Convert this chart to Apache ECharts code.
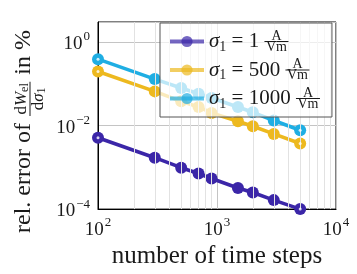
<!DOCTYPE html>
<html><head><meta charset="utf-8">
<script src="https://cdn.jsdelivr.net/npm/echarts@6/dist/echarts.min.js"></script>
<style>html,body{margin:0;padding:0;background:#fff}#c{width:357px;height:274px}</style>
</head><body><div id="c"></div>
<script>
// ---- data ----
const steps = [100, 300, 500, 700, 900, 1500, 2000, 3000, 5000];
const err1 = [5.1e-3, 1.7e-3, 9.8e-4, 7.1e-4, 5.4e-4, 3.2e-4, 2.5e-4, 1.64e-4, 1.0e-4];
const err500 = [0.196, 0.0656, 0.0379, 0.0278, 0.020, 0.0127, 0.0096, 0.0063, 0.0037];
const err1000 = [0.387, 0.129, 0.079, 0.0578, 0.0456, 0.0278, 0.0207, 0.0132, 0.0077];
const sigmaValues = ['1', '500', '1000'];
const seriesNames = ['σ1 = 1 A/Vm', 'σ1 = 500 A/Vm', 'σ1 = 1000 A/Vm'];
const colors = ['#3b26a8', '#edb91f', '#1faee3'];
const xTicks = [100, 1000, 10000];
const yTicks = [1e-4, 1e-2, 1];
const xTitle = 'number of time steps';

const SERIF = '"Liberation Serif", "DejaVu Serif", serif';
const TXT = '#1a1a1a';

// minor vertical grid lines (2..9 per decade)
const minorX = [];
for (let d = xTicks[0]; d < xTicks[xTicks.length - 1]; d *= 10) {
  for (let k = 2; k <= 9; k++) minorX.push(k * d);
}

function powLabel(v) {
  const e = Math.log10(v);
  if (Math.abs(e - Math.round(e)) > 1e-6) return '';
  const r = Math.round(e);
  return '{b|10}{s|' + (r < 0 ? '\u2212' + (-r) : r) + '}';
}
const powRich = {
  b: {fontFamily: SERIF, fontSize: 19, color: TXT, lineHeight: 23, verticalAlign: 'bottom'},
  s: {fontFamily: SERIF, fontSize: 13, color: TXT, lineHeight: 23, verticalAlign: 'top', padding: [0, 0, 0, 1]}
};

function mkSeries(i, ys) {
  return {
    name: seriesNames[i], type: 'line', data: steps.map((x, j) => [x, ys[j]]),
    color: colors[i], symbol: 'circle', symbolSize: 12, clip: false, z: 3,
    lineStyle: {width: 3.6, color: colors[i]}, itemStyle: {color: colors[i]},
    emphasis: {disabled: true}, animation: false
  };
}
const allY = [err1, err500, err1000];
const dots = [];
allY.forEach(ys => {
  dots.push([steps[0], ys[0]]);
  dots.push([steps[steps.length - 1], ys[ys.length - 1]]);
});

// ---- y-axis title layout (rotated group) ----
function tw(text, font) {
  const c = document.createElement('canvas').getContext('2d');
  c.font = font; return c.measureText(text).width;
}
const mainSize = 24, fracSize = 17, fsub = 12;
const mainFont = mainSize + 'px ' + SERIF;
const fUp = fracSize + 'px ' + SERIF, fIt = 'italic ' + fracSize + 'px ' + SERIF, fSub = fsub + 'px ' + SERIF;
const t1 = 'rel. error of', t2 = 'in %';
const w1 = tw(t1, mainFont);
const num = [['d', fUp, 0], ['W', fIt, 0], ['el', fSub, 3]];
const den = [['d', fUp, 0], ['σ', fIt, 0], ['1', fSub, 3]];
const wOf = arr => arr.reduce((s, p) => s + tw(p[0], p[1]), 0);
const wn = wOf(num), wd = wOf(den), wb = Math.max(wn, wd) + 3;
const uf = w1 + 7;
const numV = -2.5, barV = 6, denV = 14.5;
const titleEls = [];
function txt(t, font, u, v) {
  titleEls.push({type: 'text', x: u, y: v, silent: true,
    style: {text: t, font: font, fill: TXT, align: 'left', verticalAlign: 'middle', textAlign: 'left', textVerticalAlign: 'middle'}});
}
txt(t1, mainFont, 0, 0);
let u = uf + (wb - wn) / 2;
num.forEach(p => { txt(p[0], p[1], u, numV + p[2]); u += tw(p[0], p[1]); });
u = uf + (wb - wd) / 2;
den.forEach(p => { txt(p[0], p[1], u, denV + p[2]); u += tw(p[0], p[1]); });
titleEls.push({type: 'rect', silent: true, shape: {x: uf, y: barV - 0.5, width: wb, height: 1}, style: {fill: TXT}});
txt(t2, mainFont, uf + wb + 7, 0);

// legend rich text with stacked fraction
const legendRich = {
  sg: {fontFamily: SERIF, fontStyle: 'italic', fontSize: 21, color: TXT, lineHeight: 25},
  sub: {fontFamily: SERIF, fontSize: 14, color: TXT, lineHeight: 25, verticalAlign: 'bottom'},
  t: {fontFamily: SERIF, fontSize: 21, color: TXT, lineHeight: 25},
  bl: {align: 'center', width: 12, height: 1, backgroundColor: TXT, lineHeight: 25},
  br: {align: 'center', width: 12, height: 1, backgroundColor: TXT, lineHeight: 25},
  fa: {align: 'center', width: 0, fontFamily: SERIF, fontSize: 14, color: TXT, verticalAlign: 'top', lineHeight: 25},
  fb: {align: 'center', width: 0, fontFamily: SERIF, fontSize: 14, color: TXT, verticalAlign: 'bottom', lineHeight: 25}
};

const chart = echarts.init(document.getElementById('c'), null, {renderer: 'canvas'});
chart.setOption({
  animation: false,
  backgroundColor: '#fff',
  grid: {left: 98, right: 21, top: 22, bottom: 64, show: true, borderColor: '#000', borderWidth: 1, backgroundColor: 'transparent'},
  xAxis: {
    type: 'log', logBase: 10, min: xTicks[0], max: xTicks[xTicks.length - 1],
    name: xTitle, nameLocation: 'middle', nameGap: 30,
    nameTextStyle: {fontFamily: SERIF, fontSize: 25, color: TXT},
    axisLine: {show: true, lineStyle: {color: '#000'}},
    axisTick: {show: false},
    splitLine: {show: true, lineStyle: {color: '#c4c4c4', width: 1}},
    axisLabel: {margin: 7, formatter: powLabel, rich: powRich}
  },
  yAxis: {
    type: 'log', logBase: 10, min: yTicks[0], max: 3, interval: 2,
    axisLine: {show: true, lineStyle: {color: '#000'}},
    axisTick: {show: false},
    splitLine: {show: true, lineStyle: {color: '#c4c4c4', width: 1}},
    axisLabel: {margin: 8, formatter: powLabel, rich: powRich, showMaxLabel: false}
  },
  legend: {
    data: seriesNames, orient: 'vertical', left: 160, top: 23,
    padding: [6, 12, 6, 8], itemGap: 3.5, itemWidth: 34, itemHeight: 14,
    backgroundColor: 'rgba(255,255,255,0.7)', borderColor: '#555', borderWidth: 1, borderRadius: 0,
    selectedMode: false,
    itemStyle: {opacity: 0.7, borderWidth: 0}, lineStyle: {opacity: 0.7, width: 4},
    formatter: function (name) {
      const i = seriesNames.indexOf(name);
      return '{sg|σ}{sub|1}{t| = ' + sigmaValues[i] + ' }{bl|}{fa|A}{fb|Vm}{br|}';
    },
    textStyle: {rich: legendRich, color: TXT},
    z: 10
  },
  graphic: [{type: 'group', x: 24, y: 233, rotation: Math.PI / 2, children: titleEls}],
  series: [
    {name: 'grid', type: 'line', data: [], silent: true, z: 1,
      markLine: {silent: true, symbol: 'none', animation: false, label: {show: false},
        lineStyle: {color: '#e2e2e2', width: 1, type: 'solid'},
        data: minorX.map(v => ({xAxis: v}))}},
    mkSeries(0, err1), mkSeries(1, err500), mkSeries(2, err1000),
    {name: 'dots', type: 'scatter', data: dots, symbolSize: 3, z: 5, clip: false, silent: true,
      itemStyle: {color: '#fff'}, animation: false}
  ]
});
</script></body></html>
